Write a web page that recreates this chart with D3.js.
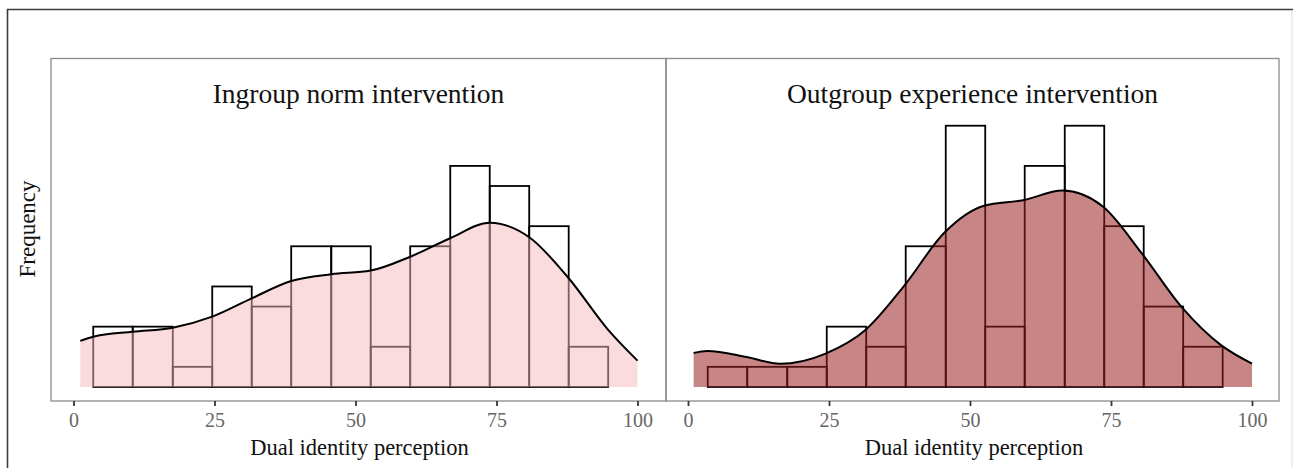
<!DOCTYPE html>
<html>
<head>
<meta charset="utf-8">
<script src="https://cdn.jsdelivr.net/npm/d3@7"></script>
<style>
  body { margin: 0; background: #fff; }
  svg { display: block; font-family: "Liberation Serif", "Times New Roman", serif; }
</style>
</head>
<body>
<svg id="chart"></svg>
<script>
// histogram bin edges (shared by both panels)
var binEdges = [3.5, 10.5, 17.6, 24.6, 31.6, 38.6, 45.7, 52.7, 59.7, 66.8, 73.8, 80.8, 87.8, 94.8];
var ingroupCounts = [3, 3, 1, 5, 4, 7, 7, 2, 7, 11, 10, 8, 2];
var outgroupCounts = [1, 1, 1, 3, 2, 7, 13, 3, 11, 13, 8, 4, 2];

// density curves, scaled to counts
var ingroupDensX = [1.2, 3.5, 10.5, 17.6, 24.6, 31.6, 38.6, 45.7, 52.7, 59.7, 66.8, 73.8, 80.8, 87.8, 94.8, 100];
var ingroupDensY = [2.29, 2.5, 2.75, 2.95, 3.5, 4.41, 5.27, 5.61, 5.79, 6.48, 7.4, 8.17, 7.45, 5.41, 2.84, 1.31];
var outgroupDensX = [1.0, 3.4, 10.4, 16.3, 24.4, 31.4, 38.4, 45.4, 52.5, 59.4, 66.4, 73.5, 80.4, 87.5, 94.5, 100];
var outgroupDensY = [1.69, 1.79, 1.49, 1.15, 1.66, 2.82, 5.06, 7.66, 9.02, 9.29, 9.77, 8.99, 6.67, 3.98, 2.08, 1.16];

var tickValues = [0, 25, 50, 75, 100];
var titles = ["Ingroup norm intervention", "Outgroup experience intervention"];

var width = 1293, height = 468;
var svg = d3.select("#chart").attr("width", width).attr("height", height);

// outer frame
svg.append("path")
    .attr("d", "M7.5," + height + "V9.5H" + width)
    .attr("fill", "none").attr("stroke", "#3c3c3c").attr("stroke-width", 1.6);
svg.append("line")
    .attr("x1", 1292).attr("x2", 1292).attr("y1", 10).attr("y2", height)
    .attr("stroke", "#e0e0e0").attr("stroke-width", 1);

var y = d3.scaleLinear().domain([-0.7, 16.37]).range([401, 58]);

var panels = [
    { left: 51, right: 666, x0: 73.5, x1: 637.5, counts: ingroupCounts, dx: ingroupDensX, dy: ingroupDensY,
      fill: "#f5b9bd", opacity: 0.5, title: titles[0] },
    { left: 666, right: 1279, x0: 688, x1: 1252, counts: outgroupCounts, dx: outgroupDensX, dy: outgroupDensY,
      fill: "#9b2121", opacity: 0.55, title: titles[1] }
];

panels.forEach(function(p) {
    var x = d3.scaleLinear().domain([0, 100]).range([p.x0, p.x1]);
    var g = svg.append("g");

    var bins = p.counts.map(function(c, i) { return { a: binEdges[i], b: binEdges[i + 1], n: c }; });

    g.selectAll("rect.bar")
        .data(bins)
        .enter().append("rect")
        .attr("class", "bar")
        .attr("x", function(d) { return x(d.a); })
        .attr("width", function(d) { return x(d.b) - x(d.a); })
        .attr("y", function(d) { return y(d.n); })
        .attr("height", function(d) { return y(0) - y(d.n); })
        .attr("fill", "none")
        .attr("stroke", "#000")
        .attr("stroke-width", 1.8);

    var pts = p.dx.map(function(v, i) { return [v, p.dy[i]]; });

    g.append("path")
        .datum(pts)
        .attr("fill", p.fill)
        .attr("fill-opacity", p.opacity)
        .attr("d", d3.area()
            .x(function(d) { return x(d[0]); })
            .y0(y(0))
            .y1(function(d) { return y(d[1]); })
            .curve(d3.curveMonotoneX));

    g.append("path")
        .datum(pts)
        .attr("fill", "none")
        .attr("stroke", "#000")
        .attr("stroke-width", 2)
        .attr("d", d3.line()
            .x(function(d) { return x(d[0]); })
            .y(function(d) { return y(d[1]); })
            .curve(d3.curveMonotoneX));

    // panel border
    g.append("rect")
        .attr("x", p.left).attr("y", 58.5)
        .attr("width", p.right - p.left).attr("height", 401 - 58.5)
        .attr("fill", "none").attr("stroke", "#8a8a8a").attr("stroke-width", 1.3);

    var axis = g.append("g")
        .attr("transform", "translate(0,401)")
        .call(d3.axisBottom(x).tickValues(tickValues).tickSize(5).tickPadding(7));
    axis.select(".domain").remove();
    axis.selectAll(".tick line").attr("stroke", "#333").attr("stroke-width", 1.8);
    axis.selectAll(".tick text")
        .attr("fill", "#666")
        .style("font-family", "Liberation Serif")
        .style("font-size", "20px");

    g.append("text")
        .attr("x", (p.left + p.right) / 2).attr("y", 103)
        .attr("text-anchor", "middle")
        .style("font-size", "27.5px")
        .attr("fill", "#111")
        .text(p.title);

    g.append("text")
        .attr("x", (p.x0 + p.x1) / 2 + 4).attr("y", 455)
        .attr("text-anchor", "middle")
        .style("font-size", "22.5px")
        .attr("fill", "#111")
        .text("Dual identity perception");
});

svg.append("text")
    .attr("transform", "translate(35,229) rotate(-90)")
    .attr("text-anchor", "middle")
    .style("font-size", "23px")
    .attr("fill", "#111")
    .text("Frequency");
</script>
</body>
</html>
